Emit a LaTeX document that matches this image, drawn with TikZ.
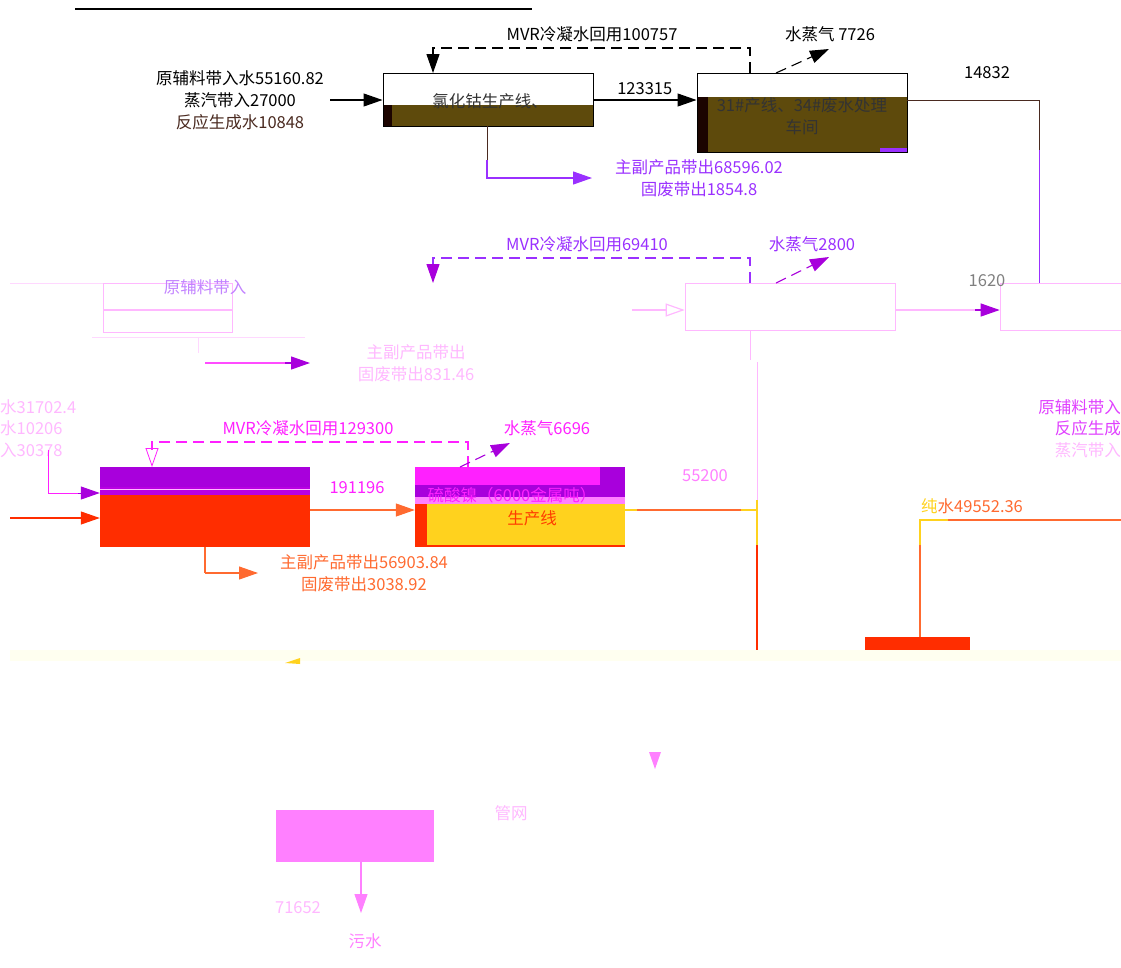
\documentclass[tikz,border=0pt]{standalone}
\usepackage{fontspec}
\setmainfont{Noto Sans CJK SC}
\usetikzlibrary{arrows.meta}
\definecolor{olive}{HTML}{5E4A0C}
\definecolor{darkstrip}{HTML}{1C0400}
\definecolor{brn}{HTML}{4A2A20}
\definecolor{purp}{HTML}{9A30FF}
\definecolor{violet}{HTML}{A800DC}
\definecolor{mag}{HTML}{E040FF}
\definecolor{hotpink}{HTML}{FF20FF}
\definecolor{pinkfill}{HTML}{FF80FF}
\definecolor{faint}{HTML}{FFB8FF}
\definecolor{faint2}{HTML}{FFD8FF}
\definecolor{redf}{HTML}{FF2D00}
\definecolor{oranged}{HTML}{FF6A30}
\definecolor{yel}{HTML}{FFD21E}
\definecolor{paleyel}{HTML}{FFFFF0}
\begin{document}
\begin{tikzpicture}[x=1pt,y=-1pt,
  lbl/.style={font=\fontsize{16.5}{22}\selectfont,inner sep=0pt,align=center},
  box/.style={draw,line width=1pt,inner sep=0pt},
  arr/.style={line width=1.1pt,-{Triangle[length=19pt,width=13pt]}},
  tipp/.style={-{Triangle[length=19pt,width=13pt]}},
  dsh/.style={line width=1.1pt,dash pattern=on 11pt off 6pt}]
\useasboundingbox (0,0) rectangle (1121,967);
% top rule
\draw[line width=1.6pt] (75,9) -- (532,9);

% ===== Row 1 =====
\fill[olive] (383,105) rectangle (593,126);
\fill[darkstrip] (383,105) rectangle (392,126);
\node[box,minimum width=210pt,minimum height=53pt] (A) at (488,99.5) {};
\node[lbl,text=black!80] (Atext) at (490,101) {氯化钴生产线、};
\fill[olive] (697,97) rectangle (907,152);
\fill[darkstrip] (697,97) rectangle (708,152);
\fill[purp] (880,148) rectangle (907,152);
\node[box,minimum width=210pt,minimum height=79pt] (B) at (802,112.5) {};
\node[lbl,text=black!80] (Btext) at (802,116) {31\#产线、34\#废水处理\\车间};

\node[lbl,align=center] (in1) at (240,100) {原辅料带入水55160.82\\蒸汽带入27000\\\textcolor{brn}{反应生成水10848}};
\coordinate (in1e) at (330,100);
\draw[arr] (in1e) -- (in1e -| A.west);
\coordinate (ab) at (593,100);
\draw[arr] (ab) -- (ab -| B.west) node[lbl,midway,above=5pt] (l123) {123315};
\coordinate (mv1a) at (750,48); \coordinate (mv1b) at (433,48);
\draw[dsh] (750,73) -- (mv1a) -- (mv1b) -- (433,56);
\draw[arr] (433,55) -- (433,73);
\node[lbl] (mvr1) at (592,34) {MVR冷凝水回用100757};
\coordinate (st1) at (829,49);
\draw[dsh,tipp] (776,73) -- (st1);
\node[lbl] (stl1) at (830,34) {水蒸气 7726};
\node[lbl] (l14832) at (987,73) {14832};
\draw[brn,line width=1pt] (907,100) -- (1039,100) -- (1039,150);
\draw[purp,line width=1pt] (1039,150) -- (1039,283);
\draw[brn,line width=1pt] (487,126) -- (487,160);
\coordinate (o1) at (592,178);
\draw[purp,arr] (487,160) -- (487,178) -- (o1);
\node[lbl,text=purp] (out1) at (699,178) {主副产品带出68596.02\\固废带出1854.8};

% ===== Row 2 (faded) =====
\draw[faint2,line width=0.6pt] (10,283) -- (103,283);
\draw[faint,line width=0.6pt] (103,283) rectangle (232,332);
\draw[faint,line width=1.6pt] (103,310) -- (232,310);
\draw[faint2,line width=0.6pt] (92,337) -- (305,337);
\draw[faint2,line width=0.6pt] (198,337) -- (198,353);
\node[lbl,text=purp!60] (r2in) at (205,287) {原辅料带入};
\draw[hotpink!80,line width=1.2pt] (205,363) -- (290,363);
\draw[violet,tipp,line width=1.2pt] (285,363) -- (310,363);
\node[lbl,text=faint] (out2) at (416,363) {主副产品带出\\固废带出831.46};
\node[box,draw=faint,line width=0.6pt,minimum width=210pt,minimum height=47pt] (E) at (790,306.5) {};
\node[box,draw=faint,line width=0.6pt,minimum width=130pt,minimum height=47pt] (F) at (1065,306.5) {};
\coordinate (e2) at (632,310);
\draw[faint,line width=1.2pt,-{Triangle[open,length=19pt,width=13pt]}] (e2) -- (e2 -| E.west);
\coordinate (ef) at (895,310);
\draw[faint,line width=1.4pt] (ef) -- (980,310);
\draw[violet,tipp,line width=1.2pt] (975,310) -- (ef -| F.west);
\node[lbl,text=black!50] (l1620) at (987,281) {1620};
\coordinate (mv2a) at (750,258); \coordinate (mv2b) at (433,258);
\draw[dsh,purp] (750,283) -- (mv2a) -- (mv2b) -- (433,266);
\draw[arr,violet] (433,265) -- (433,283);
\node[lbl,text=purp] (mvr2) at (587,244) {MVR冷凝水回用69410};
\coordinate (st2) at (829,257);
\draw[dsh,violet,tipp] (776,283) -- (st2);
\node[lbl,text=purp] (stl2) at (812,244) {水蒸气2800};
\draw[faint,line width=0.6pt] (750,330) -- (750,360);
\node[lbl,text=mag,anchor=east] (r3r1) at (1121,407) {原辅料带入};
\node[lbl,text=mag,anchor=east] (r3r2) at (1121,428) {反应生成};
\node[lbl,text=faint,anchor=east] (r3r3) at (1121,450) {蒸汽带入};

% ===== Row 3 =====
\node[lbl,text=faint,anchor=west] (r3l1) at (0,407) {水31702.4};
\node[lbl,text=faint,anchor=west] (r3l2) at (0,428) {水10206};
\node[lbl,text=faint,anchor=west] (r3l3) at (0,450) {入30378};
\fill[violet] (100,467) rectangle (310,487);
\fill[violet!80!magenta] (100,487) rectangle (310,495);
\draw[faint,line width=0.8pt] (100,489) -- (310,489);
\fill[redf] (100,495) rectangle (310,547);
\node[minimum width=210pt,minimum height=80pt,inner sep=0pt] (C) at (205,507) {};
\fill[hotpink] (415,467) rectangle (600,485);
\fill[violet] (600,467) rectangle (625,485);
\fill[violet] (415,485) rectangle (625,497);
\fill[pinkfill] (415,497) rectangle (625,504);
\fill[yel] (427,504) rectangle (625,545);
\fill[redf] (415,504) rectangle (427,547);
\fill[redf] (415,545) rectangle (625,547);
\node[minimum width=210pt,minimum height=80pt,inner sep=0pt] (D) at (520,507) {};
\node[lbl,text=hotpink] (Dt1) at (512,495) {硫酸镍（6000金属吨）};
\node[lbl,text=redf!80!orange] (Dt2) at (532,518) {生产线};
\coordinate (c1) at (48,450);
\draw[hotpink,line width=1pt] (c1) -- (48,493) -- (80,493);
\coordinate (c1b) at (78,493);
\draw[violet,tipp,line width=1pt] (c1b) -- (c1b -| C.west);
\coordinate (c2) at (10,518);
\draw[redf,arr] (c2) -- (c2 -| C.west);
\coordinate (cd) at (310,510);
\draw[oranged,arr] (cd) -- (cd -| D.west);
\node[lbl,text=hotpink] (l191) at (357,488) {191196};
\coordinate (mv3a) at (468,442); \coordinate (mv3b) at (152,442);
\draw[dsh,hotpink] (468,467) -- (mv3a) -- (mv3b) -- (152,450);
\draw[hotpink,line width=0.8pt,-{Triangle[open,length=19pt,width=13pt]}] (152,449) -- (152,467);
\node[lbl,text=hotpink] (mvr3) at (308,428) {MVR冷凝水回用129300};
\coordinate (st3) at (510,443);
\draw[dsh,violet,tipp] (460,467) -- (st3);
\node[lbl,text=hotpink] (stl3) at (547,428) {水蒸气6696};
\node[lbl,text=pinkfill] (l552) at (705,476) {55200};
\draw[yel,line width=1.2pt] (625,510) -- (637,510);
\draw[oranged,line width=1.2pt] (637,510) -- (741,510);
\draw[yel,line width=1.2pt] (741,510) -- (757,510);
\draw[faint,line width=0.6pt] (757,362) -- (757,500);
\draw[yel,line width=1.2pt] (757,500) -- (757,545);
\draw[redf,line width=1.2pt] (757,545) -- (757,650);
\draw[oranged,line width=1.2pt] (205,547) -- (205,573);
\coordinate (o3) at (258,573);
\draw[oranged,arr] (205,573) -- (o3);
\node[lbl,text=oranged] (out3) at (364,573) {主副产品带出56903.84\\固废带出3038.92};
\node[lbl,anchor=west] (pure) at (921,506) {\textcolor{yel}{纯}\textcolor{oranged}{水49552.36}};
\draw[yel,line width=1.2pt] (948,520) -- (920,520) -- (920,545);
\draw[oranged,line width=1.2pt] (948,520) -- (1121,520);
\draw[oranged,line width=1.2pt] (920,545) -- (920,637);
\fill[redf] (865,637) rectangle (970,650);
\node[inner sep=0pt,minimum width=105pt,minimum height=13pt] (G) at (917.5,643.5) {};

% pale band
\fill[paleyel] (10,650) rectangle (1121,661);
\fill[yel] (285,663) -- (300,658) -- (300,664) -- cycle;

% ===== Bottom =====
\fill[pinkfill] (649,752) -- (661,752) -- (655,769) -- cycle;
\node[lbl,text=faint] (gw) at (511,813) {管网};
\fill[pinkfill] (276,810) rectangle (434,862);
\node[inner sep=0pt,minimum width=158pt,minimum height=52pt] (H) at (355,836) {};
\coordinate (w1) at (361,913);
\draw[pinkfill,arr] (361,862) -- (w1);
\node[lbl,text=faint] (l716) at (298,908) {71652};
\node[lbl,text=pinkfill] (ws) at (365,941) {污水};
\end{tikzpicture}
\end{document}
